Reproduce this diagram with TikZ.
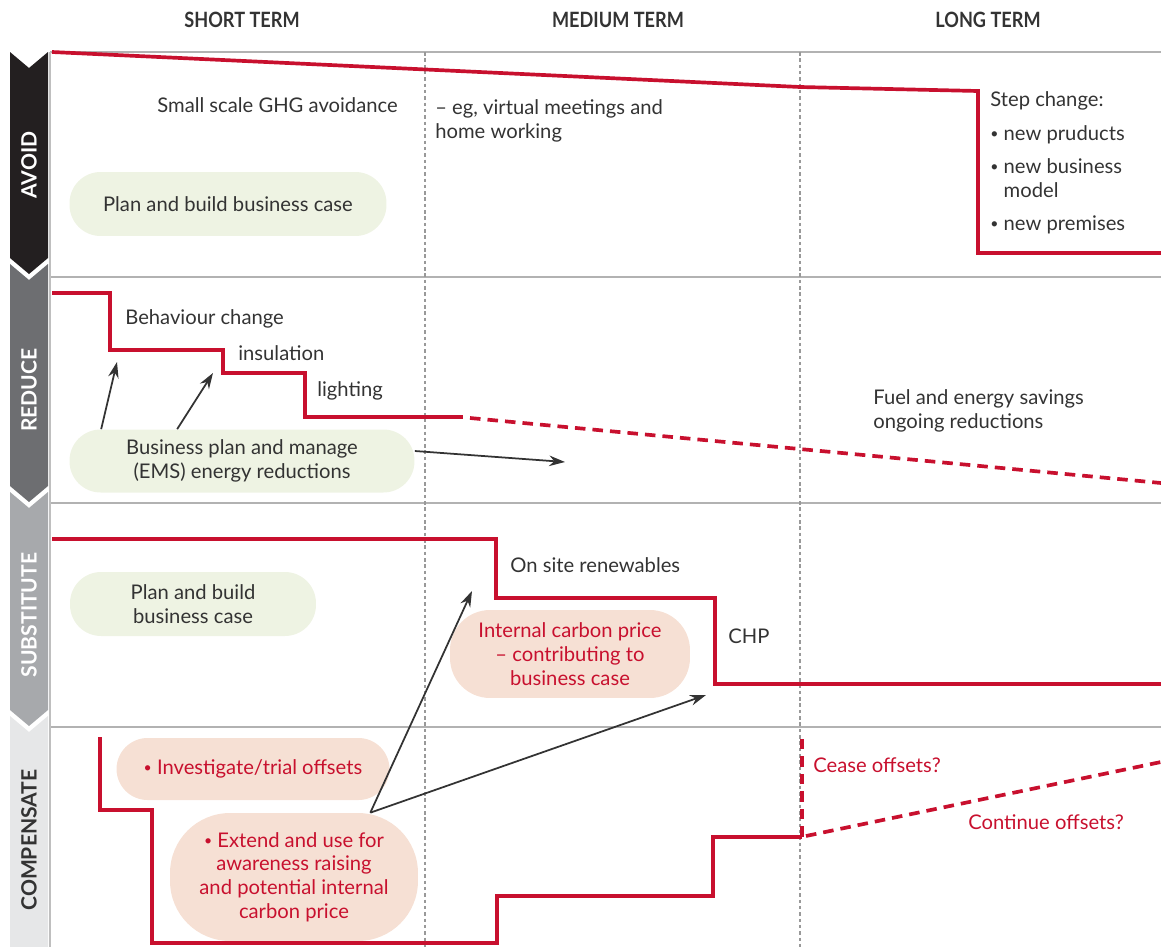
\documentclass[tikz,border=0pt]{standalone}
\usepackage{fontspec}
\setmainfont{Lato}
\newfontfamily\condfont[FakeStretch=0.86]{Lato}
\usetikzlibrary{arrows.meta}

\definecolor{cred}{HTML}{C8102E}
\definecolor{ctext}{HTML}{333333}
\definecolor{cgreen}{HTML}{EEF3E3}
\definecolor{cpink}{HTML}{F6E0D4}
\definecolor{cband1}{HTML}{231F20}
\definecolor{cband2}{HTML}{6D6E71}
\definecolor{cband3}{HTML}{A7A9AC}
\definecolor{cband4}{HTML}{E6E7E8}

\newcommand{\dotbul}{\raisebox{0.2ex}{\fontsize{8}{8}\selectfont\textbullet}}

\tikzset{
  txt/.style={text=ctext,font=\fontsize{11.5}{13.5}\selectfont,inner sep=0pt,align=left,anchor=west},
  redtxt/.style={txt,text=cred},
  head/.style={text=ctext,font=\condfont\bfseries\fontsize{12}{14}\selectfont,inner sep=0pt},
  bandtxt/.style={rotate=90,font=\bfseries\fontsize{12}{14}\selectfont,inner sep=0pt},
  pill/.style={fill=cgreen,text=ctext,rounded corners=0.62cm,align=center,inner sep=0pt,
    font=\fontsize{11.5}{13.5}\selectfont},
  pinkpill/.style={pill,fill=cpink,text=cred},
  redline/.style={draw=cred,line width=2.1pt,line join=miter},
  reddash/.style={redline,dash pattern=on 6pt off 4pt},
  gridline/.style={draw=black!30,line width=1.1pt},
  termline/.style={draw=black!40,line width=0.6pt,dash pattern=on 2pt off 1.6pt},
  arr/.style={draw=ctext,line width=1pt,-{Stealth[length=9pt,width=6pt]}}
}

\begin{document}
\begin{tikzpicture}[x=0.02cm,y=-0.02cm]
\useasboundingbox (0,0) rectangle (1161,947);

% side bands
\fill[cband1] (10,52) -- (29,68) -- (48,52) -- (48,258) -- (29,274) -- (10,258) -- cycle;
\fill[cband2] (10,264) -- (29,280) -- (48,264) -- (48,486) -- (29,502) -- (10,486) -- cycle;
\fill[cband3] (10,492) -- (29,508) -- (48,492) -- (48,710) -- (29,726) -- (10,710) -- cycle;
\fill[cband4] (10,716) -- (29,732) -- (48,716) -- (48,947) -- (10,947) -- cycle;
\node[bandtxt,text=white] (avoid) at (29,165) {AVOID};
\node[bandtxt,text=white] (reduce) at (29,390) {REDUCE};
\node[bandtxt,text=white] (subst) at (29,615) {SUBSTITUTE};
\node[bandtxt,text=ctext] (comp) at (29,840) {COMPENSATE};

% grid
\draw[gridline] (50,52) -- (1161,52);
\draw[gridline] (50,277) -- (1161,277);
\draw[gridline] (50,503) -- (1161,503);
\draw[gridline] (50,727) -- (1161,727);
\draw[draw=black!25,line width=0.6pt] (50,52) -- (50,947);
\draw[termline] (425,52) -- (425,947);
\draw[termline] (800,52) -- (800,947);

\node[head] (short) at (242,20) {SHORT TERM};
\node[head] (medium) at (618,20) {MEDIUM TERM};
\node[head] (long) at (988,20) {LONG TERM};

% avoid
\draw[redline] (52,52) -- (800,87) -- (978,91) -- (978,253) -- (1161,253);
\node[txt] (ghg) at (157,105) {Small scale GHG avoidance};
\node[txt,text depth=0pt] (virtual) at (435,119) {-- eg, virtual meetings and\\home working};
\node[txt] (step) at (990,163) {Step change:\\[5.5pt]
  \dotbul\ new pruducts\\[5.5pt]
  \dotbul\ new business\\\hphantom{\dotbul\ }model\\[5.5pt]
  \dotbul\ new premises};
\node[pill,minimum width=6.34cm,minimum height=1.28cm] (planavoid) at (228,204) {Plan and build business case};

% reduce
\draw[redline] (52,293) -- (110,293) -- (110,350) -- (223,350) -- (223,373) -- (305,373) -- (305,417) -- (463,417);
\draw[reddash] (470,418) -- (1161,483);
\node[txt] (behav) at (125,319) {Behaviour change};
\node[txt] (insul) at (238,353) {insulation};
\node[txt] (light) at (317,391) {lighting};
\node[txt] (fuel) at (873,411) {Fuel and energy savings\\ongoing reductions};
\node[pill,minimum width=6.9cm,minimum height=1.26cm] (ems) at (242,461) {Business plan and manage\\(EMS) energy reductions};
\coordinate (behavtip) at (117,362);
\coordinate (insultip) at (213,373);
\coordinate (savetip) at (565,462);
\draw[arr] ([xshift=0.64cm]ems.north west) -- (behavtip);
\draw[arr] ([xshift=2.16cm]ems.north west) -- (insultip);
\draw[arr] ([yshift=0.2cm]ems.east) -- (savetip);

% substitute
\draw[redline] (52,539) -- (496,539) -- (496,598) -- (715,598) -- (715,684) -- (1161,684);
\node[txt] (renew) at (510,565) {On site renewables};
\node[txt] (chp) at (728,636) {CHP};
\node[pill,minimum width=4.92cm,minimum height=1.28cm] (plansub) at (193,604) {Plan and build\\business case};
\node[pinkpill,minimum width=4.8cm,minimum height=1.76cm,rounded corners=0.8cm] (carbon) at (570,654) {Internal carbon price\\-- contributing to\\business case};

% compensate
\draw[redline] (100,737) -- (100,810) -- (152,810) -- (152,943) -- (497,943) -- (497,896) -- (713,896) -- (713,837) -- (802,837);
\draw[reddash] (802,837) -- (802,733);
\draw[reddash] (806,836) -- (1161,762);
\node[redtxt] (cease) at (813,765) {Cease offsets?};
\node[redtxt] (cont) at (968,822) {Continue offsets?};
\node[pinkpill,minimum width=5.46cm,minimum height=1.24cm] (trial) at (253,769) {\dotbul\ Investigate/trial offsets};
\node[pinkpill,minimum width=4.96cm,minimum height=2.56cm,rounded corners=1.2cm] (extend) at (294,877) {\dotbul\ Extend and use for\\awareness raising\\and potential internal\\carbon price};
\coordinate (renewtip) at (472,591);
\coordinate (chptip) at (706,695);
\draw[arr] ([xshift=-0.96cm]extend.north east) -- (renewtip);
\draw[arr] ([xshift=-0.96cm]extend.north east) -- (chptip);
\end{tikzpicture}
\end{document}
